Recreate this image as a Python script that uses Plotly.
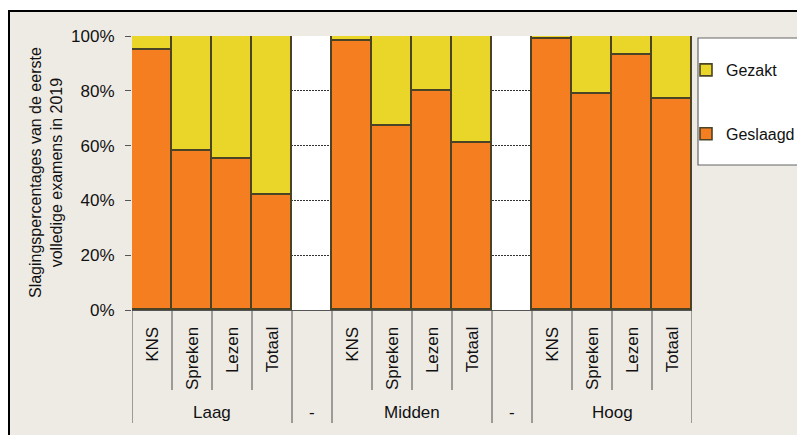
import plotly.graph_objects as go

# ---- data ----
groups = ["Laag", "-", "Midden", "-", "Hoog"]
group_sizes = [4, 1, 4, 1, 4]
category_labels = ["KNS", "Spreken", "Lezen", "Totaal", "",
                   "KNS", "Spreken", "Lezen", "Totaal", "",
                   "KNS", "Spreken", "Lezen", "Totaal"]
geslaagd = [95, 58, 55, 42, None, 98, 67, 80, 61, None, 99, 79, 93, 77]
gezakt = [5, 42, 45, 58, None, 2, 33, 20, 39, None, 1, 21, 7, 23]
y_ticks = [0, 20, 40, 60, 80, 100]
y_tick_labels = ["0%", "20%", "40%", "60%", "80%", "100%"]

# ---- styling ----
PAGE_W, PAGE_H = 805, 435
OFF = 8  # default body margin of the html page
W, H = PAGE_W - OFF, PAGE_H - OFF
# plot area in page pixels
PL, PR, PT, PB = 132, 692, 36, 310
L, T = PL - OFF, PT - OFF
R, B = W - (PR - OFF), H - (PB - OFF)
PW, PH = PR - PL, PB - PT
FONT = "Liberation Sans, Arial, sans-serif"
ORANGE = "#F47E20"
YELLOW = "#EAD628"
OUTLINE = "#4A4326"
BEIGE = "#EEEBE5"
DIV = "#4a4a4a"


def px_x(px):
    """page pixel x -> paper x"""
    return (px - PL) / PW


def px_y(py):
    """page pixel y -> paper y"""
    return (PB - py) / PH


xs = list(range(len(category_labels)))

fig = go.Figure()
fig.add_trace(go.Bar(
    x=xs, y=geslaagd, name="Geslaagd", legendgroup="g1", legendrank=2,
    marker=dict(color=ORANGE, line=dict(color=OUTLINE, width=1.6)),
))
fig.add_trace(go.Bar(
    x=xs, y=gezakt, name="Gezakt", legendgroup="g2", legendrank=1,
    marker=dict(color=YELLOW, line=dict(color=OUTLINE, width=1.6)),
))

shapes = []
# outer frame: white outside, beige inside, black border left/top
shapes.append(dict(type="rect", xref="paper", yref="paper", layer="below",
                   x0=px_x(0), x1=px_x(PAGE_W + 5), y0=px_y(11), y1=px_y(0),
                   fillcolor="white", line=dict(width=0)))
shapes.append(dict(type="line", xref="paper", yref="paper", layer="above",
                   x0=px_x(9), x1=px_x(PAGE_W + 5), y0=px_y(11), y1=px_y(11),
                   line=dict(color="black", width=2)))
shapes.append(dict(type="line", xref="paper", yref="paper", layer="above",
                   x0=px_x(9), x1=px_x(9), y0=px_y(10), y1=px_y(PAGE_H + 5),
                   line=dict(color="black", width=2)))
# legend box
shapes.append(dict(type="rect", xref="paper", yref="paper", layer="below",
                   x0=px_x(698), x1=px_x(PAGE_W + 10), y0=px_y(165), y1=px_y(38),
                   fillcolor="white", line=dict(color="#666666", width=1.2)))

# category dividers below the axis
boundary = -0.5
group_centers = []
for g, n in zip(groups, group_sizes):
    group_centers.append(boundary + n / 2)
    shapes.append(dict(type="line", xref="x", yref="paper",
                       x0=boundary, x1=boundary, y0=0, y1=px_y(423),
                       line=dict(color=DIV, width=1)))
    for k in range(1, n):
        xb = boundary + k
        shapes.append(dict(type="line", xref="x", yref="paper",
                           x0=xb, x1=xb, y0=0, y1=px_y(390),
                           line=dict(color=DIV, width=1)))
    boundary += n
shapes.append(dict(type="line", xref="x", yref="paper",
                   x0=boundary, x1=boundary, y0=0, y1=px_y(423),
                   line=dict(color=DIV, width=1)))

annotations = []
for g, c in zip(groups, group_centers):
    annotations.append(dict(x=c, xref="x", y=px_y(412), yref="paper",
                            text=g, showarrow=False, xanchor="center",
                            yanchor="middle",
                            font=dict(family=FONT, size=17, color="#111")))
annotations.append(dict(
    x=px_x(46), xref="paper", y=px_y(173), yref="paper",
    text="Slagingspercentages van de eerste<br>volledige examens in 2019",
    textangle=-90, showarrow=False, xanchor="center", yanchor="middle",
    font=dict(family=FONT, size=16, color="#111")))

fig.update_layout(
    width=W, height=H,
    margin=dict(l=L, r=R, t=T, b=B, pad=0, autoexpand=False),
    barmode="stack", bargap=0,
    paper_bgcolor=BEIGE, plot_bgcolor="white",
    font=dict(family=FONT, size=16, color="#111"),
    shapes=shapes, annotations=annotations,
    legend=dict(x=px_x(686), xanchor="left", y=px_y(53), yanchor="top",
                traceorder="grouped", tracegroupgap=40,
                bgcolor="rgba(0,0,0,0)", borderwidth=0,
                font=dict(family=FONT, size=16, color="#111")),
    xaxis=dict(range=[-0.5, len(category_labels) - 0.5],
               tickvals=xs, ticktext=category_labels, tickangle=-90,
               ticks="", showgrid=False, zeroline=False,
               showline=True, linecolor="#555", linewidth=1,
               tickfont=dict(family=FONT, size=17, color="#111"),
               ticklabelstandoff=9, fixedrange=True),
    yaxis=dict(range=[0, 100], tickvals=y_ticks, ticktext=y_tick_labels,
               ticks="outside", ticklen=6, tickcolor="#555",
               showgrid=True, gridcolor="#333", griddash="2px,1px",
               gridwidth=1, zeroline=False, showline=False,
               tickfont=dict(family=FONT, size=17, color="#111"),
               ticklabelstandoff=7, fixedrange=True),
)

fig.write_html("out.html")
